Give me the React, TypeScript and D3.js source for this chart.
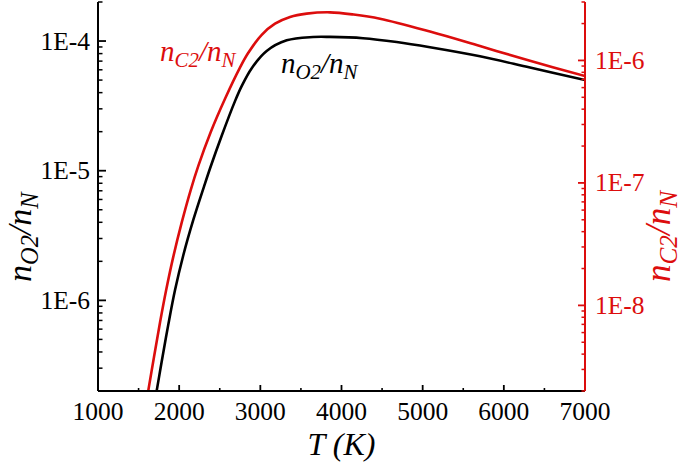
import React from "react";
import * as d3 from "d3";

const tO2 = [1690, 1705, 1792, 1866, 1949, 2051, 2174, 2306, 2380, 2524, 2688, 2770, 2894, 3078, 3325, 3649, 3858, 4265, 4680, 5090, 5706, 6322, 7000];
const vO2 = [1.57e-7, 1.74e-7, 3.58e-7, 6.5e-7, 1.2e-6, 2.23e-6, 4.17e-6, 7.54e-6, 1.04e-5, 1.86e-5, 3.44e-5, 4.49e-5, 6.18e-5, 8.38e-5, 1.012e-4, 1.074e-4, 1.076e-4, 1.052e-4, 9.82e-5, 8.95e-5, 7.62e-5, 6.24e-5, 5.0e-5];

const tC2 = [1595, 1610, 1690, 1764, 1838, 1928, 2031, 2142, 2236, 2388, 2565, 2749, 2848, 3017, 3181, 3366, 3571, 3858, 4150, 4474, 5090, 5706, 6322, 7000];
const vC2 = [1.62e-9, 1.85e-9, 3.79e-9, 7.24e-9, 1.315e-8, 2.5e-8, 4.74e-8, 8.75e-8, 1.377e-7, 2.59e-7, 4.86e-7, 8.73e-7, 1.143e-6, 1.62e-6, 1.995e-6, 2.265e-6, 2.41e-6, 2.47e-6, 2.37e-6, 2.19e-6, 1.72e-6, 1.31e-6, 9.93e-7, 7.46e-7];

const xTicks = [1000, 2000, 3000, 4000, 5000, 6000, 7000];
const xMinor = [1500, 2500, 3500, 4500, 5500, 6500];
const leftTicks = [1e-4, 1e-5, 1e-6];
const leftTickLabels = ["1E-4", "1E-5", "1E-6"];
const rightTicks = [1e-6, 1e-7, 1e-8];
const rightTickLabels = ["1E-6", "1E-7", "1E-8"];

const RED = "#dc0d0d";
const FONT = "'Liberation Serif', 'Times New Roman', serif";

const W = 685, H = 466;
const L = 98, R = 585, T = 2, B = 391;

function minorLogTicks(lo: number, hi: number) {
  const out: number[] = [];
  for (let e = Math.floor(Math.log10(lo)) - 1; e <= Math.ceil(Math.log10(hi)); e++) {
    for (let m = 2; m <= 9; m++) {
      const v = m * Math.pow(10, e);
      if (v >= lo * 0.999 && v <= hi * 1.001) out.push(v);
    }
  }
  return out;
}

function Frac({ x, y, size, a, b, fill, transform }: any) {
  const s = size * 0.72;
  const sh = size * 0.2;
  return (
    <text x={x} y={y} transform={transform} fontFamily={FONT} fontStyle="italic" fontSize={size} fill={fill}>
      <tspan>n</tspan>
      <tspan fontSize={s} dy={sh}>{a}</tspan>
      <tspan dy={-sh}>/n</tspan>
      <tspan fontSize={s} dy={sh}>{b}</tspan>
    </text>
  );
}

export default function App() {
  const x = d3.scaleLinear().domain([1000, 7000]).range([L, R]);
  const yL = d3.scaleLog().domain([2e-7, 2e-4]).range([B, T]);
  const yR = d3.scaleLog().domain([2e-9, 3e-6]).range([B, T]);

  const curve = d3.curveCatmullRom.alpha(0.5);
  const lineO2 = d3.line<number>().x((_, i) => x(tO2[i])).y((d) => yL(d)).curve(curve);
  const lineC2 = d3.line<number>().x((_, i) => x(tC2[i])).y((d) => yR(d)).curve(curve);

  const lMinor = minorLogTicks(2e-7, 2e-4);
  const rMinor = minorLogTicks(2e-9, 3e-6);

  return (
    <svg width={W} height={H} style={{ position: "absolute", left: 0, top: 0, background: "#fff" }}>
      <defs>
        <clipPath id="plot">
          <rect x={L} y={T} width={R - L} height={B - T} />
        </clipPath>
      </defs>
      <g clipPath="url(#plot)" fill="none" strokeWidth={2.6} strokeLinejoin="round">
        <path d={lineO2(vO2) || ""} stroke="#000" />
        <path d={lineC2(vC2) || ""} stroke={RED} />
      </g>

      {/* bottom axis */}
      <line x1={L} x2={R} y1={B} y2={B} stroke="#000" strokeWidth={2} />
      {xTicks.map((t) => (
        <g key={"xt" + t}>
          <line x1={x(t)} x2={x(t)} y1={B} y2={B - 6} stroke="#000" strokeWidth={1.8} />
          <text x={x(t)} y={420} textAnchor="middle" fontFamily={FONT} fontSize={25.5} fill="#000">{t}</text>
        </g>
      ))}
      {xMinor.map((t) => (
        <line key={"xm" + t} x1={x(t)} x2={x(t)} y1={B} y2={B - 3} stroke="#000" strokeWidth={1.6} />
      ))}
      <text x={x(4000)} y={455} textAnchor="middle" fontFamily={FONT} fontStyle="italic" fontSize={32} fill="#000">T (K)</text>

      {/* left axis */}
      <line x1={L} x2={L} y1={T} y2={B} stroke="#000" strokeWidth={2} />
      {leftTicks.map((t, i) => (
        <g key={"lt" + i}>
          <line x1={L} x2={L + 8} y1={yL(t)} y2={yL(t)} stroke="#000" strokeWidth={1.8} />
          <text x={L - 8} y={yL(t) + 8.5} textAnchor="end" fontFamily={FONT} fontSize={25.5} fill="#000">{leftTickLabels[i]}</text>
        </g>
      ))}
      {lMinor.map((t, i) => (
        <line key={"lm" + i} x1={L} x2={L + 4.5} y1={yL(t)} y2={yL(t)} stroke="#000" strokeWidth={1.5} />
      ))}
      <Frac x={0} y={0} size={34} a="O2" b="N" fill="#000" transform="translate(31,282) rotate(-90)" />

      {/* right axis */}
      <line x1={R} x2={R} y1={T} y2={B} stroke={RED} strokeWidth={2} />
      {rightTicks.map((t, i) => (
        <g key={"rt" + i}>
          <line x1={R} x2={R - 7} y1={yR(t)} y2={yR(t)} stroke={RED} strokeWidth={1.8} />
          <text x={R + 10} y={yR(t) + 8.5} textAnchor="start" fontFamily={FONT} fontSize={25.5} fill={RED}>{rightTickLabels[i]}</text>
        </g>
      ))}
      {rMinor.map((t, i) => (
        <line key={"rm" + i} x1={R} x2={R - 3.5} y1={yR(t)} y2={yR(t)} stroke={RED} strokeWidth={1.5} />
      ))}
      <Frac x={0} y={0} size={35} a="C2" b="N" fill={RED} transform="translate(670,282) rotate(-90)" />

      {/* in-plot labels */}
      <Frac x={160} y={61} size={29} a="C2" b="N" fill={RED} />
      <Frac x={281} y={73} size={29} a="O2" b="N" fill="#000" />
    </svg>
  );
}
